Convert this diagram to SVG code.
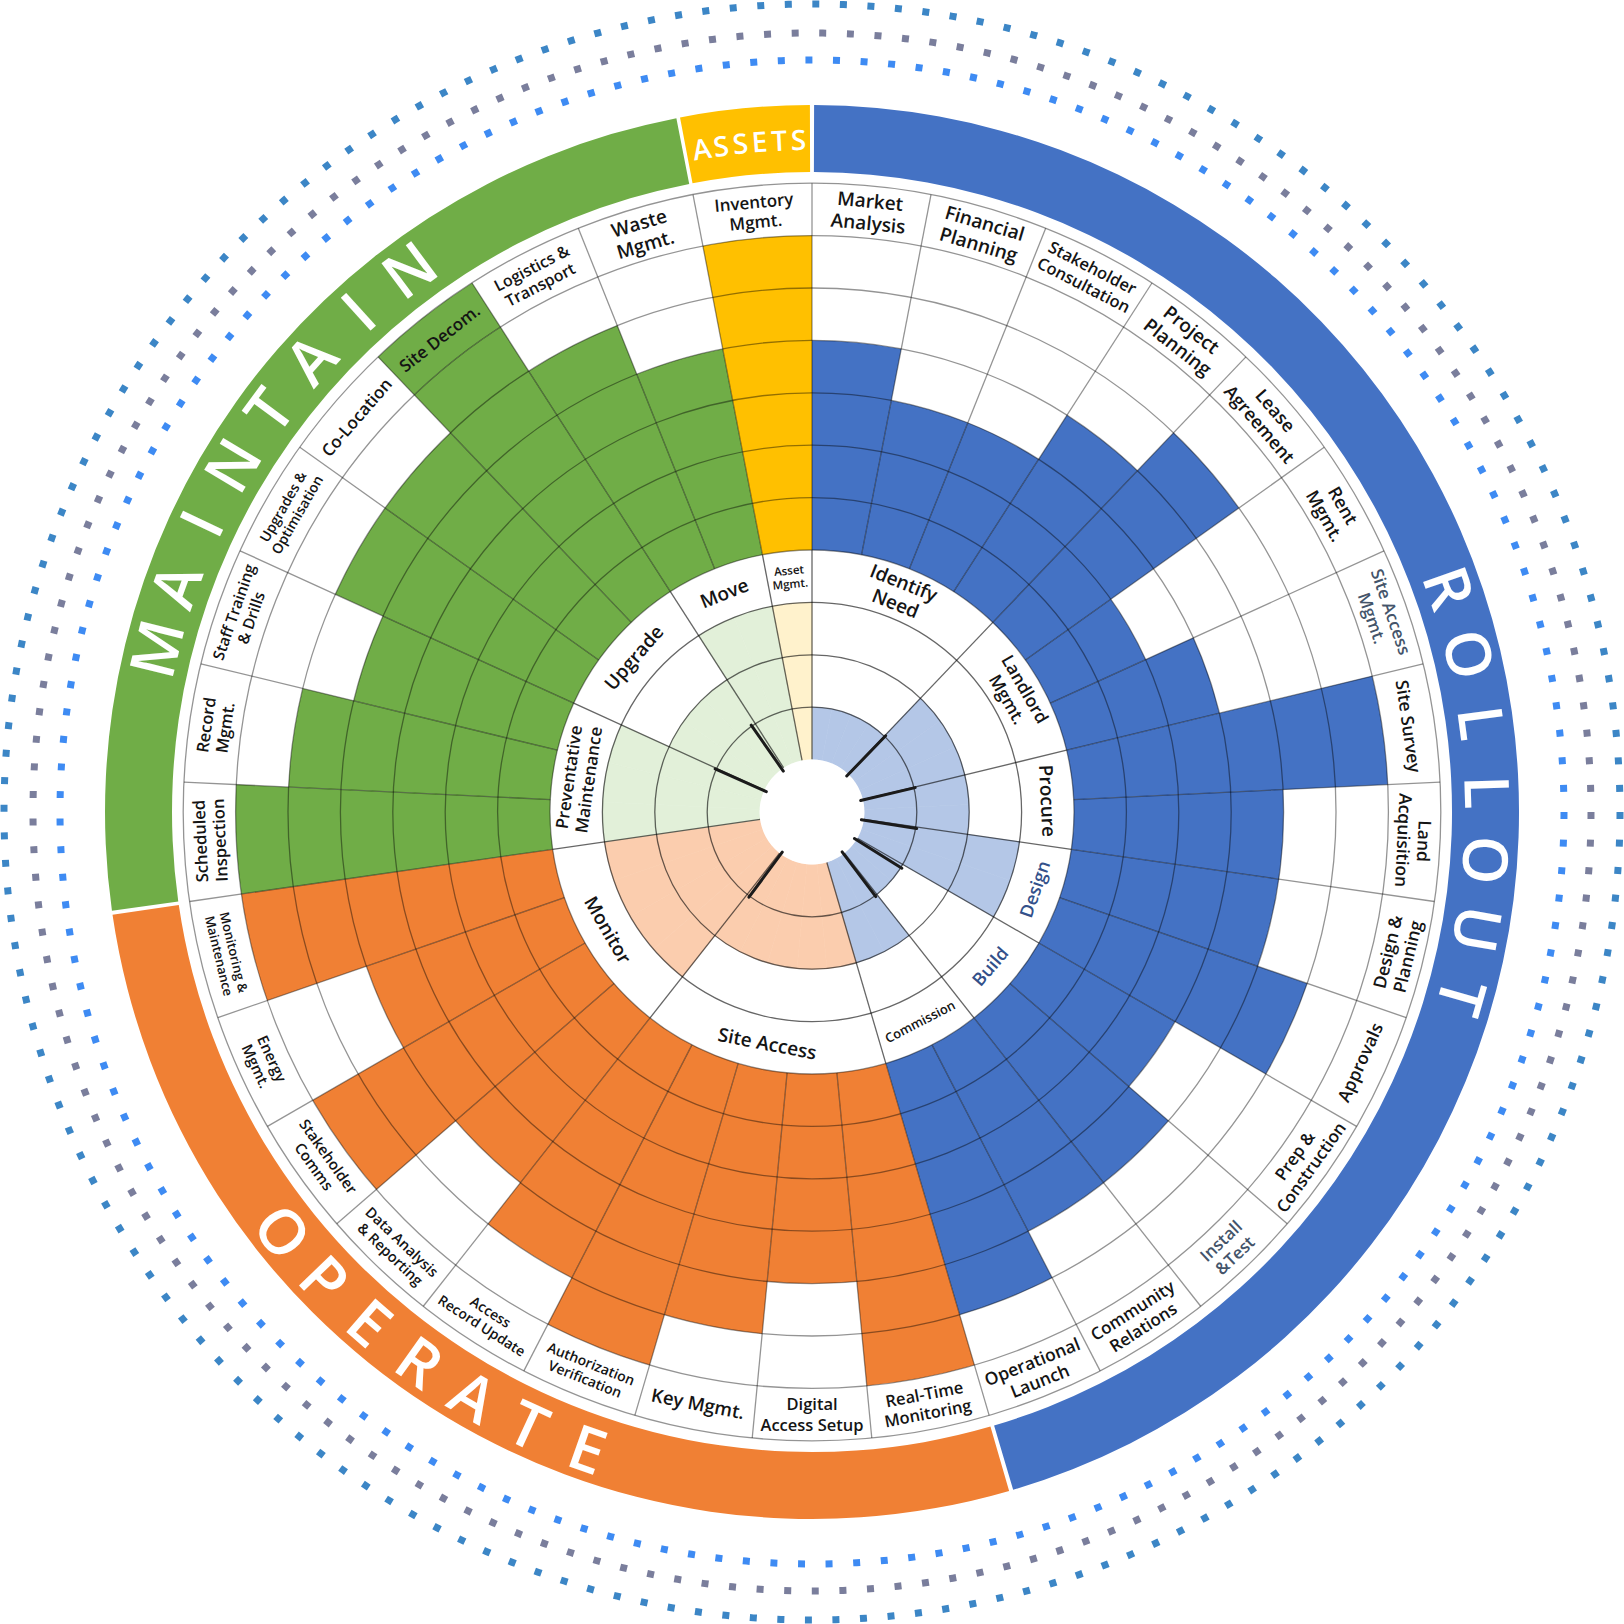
<svg xmlns="http://www.w3.org/2000/svg" width="1624" height="1624" viewBox="0 0 1624 1624">
<style>
text { font-family: "Open Sans", "Noto Sans", "Liberation Sans", sans-serif; }
.lbl { font-weight: 600; fill: #141414; text-anchor: middle; }
.nv { fill: #44546A; }
.bl { fill: #33508A; }
.bandt { fill: #ffffff; font-size: 62px; font-weight: 600; text-anchor: middle; }
.asst { fill: #ffffff; font-size: 28px; font-weight: 600; text-anchor: middle; }
.grid { fill: none; stroke: #000; stroke-opacity: 0.42; stroke-width: 1.3; }
.gridin { fill: none; stroke: #000; stroke-opacity: 0.6; stroke-width: 1.3; }
.b { fill: #4472C4; } .o { fill: #F08034; } .g { fill: #70AD47; } .y { fill: #FFC000; }
.lb { fill: #B4C7E7; stroke: #B4C7E7; stroke-width: 0.6; }
.pe { fill: #FBCDAE; stroke: #FBCDAE; stroke-width: 0.6; }
.lg { fill: #E2F0D9; stroke: #E2F0D9; stroke-width: 0.6; }
.ly { fill: #FFF2CC; stroke: #FFF2CC; stroke-width: 0.6; }
</style>
<defs>
<path id="w1" d="M0,-262 L0,-314.4 A314.4,314.4 0 0 1 59.501,-308.719 L49.584,-257.265 A262,262 0 0 0 0,-262 Z"/>
<path id="w2" d="M0,-262 L0,-366.8 A366.8,366.8 0 0 1 69.418,-360.172 L49.584,-257.265 A262,262 0 0 0 0,-262 Z"/>
<path id="w3" d="M0,-262 L0,-419.2 A419.2,419.2 0 0 1 79.334,-411.625 L49.584,-257.265 A262,262 0 0 0 0,-262 Z"/>
<path id="w4" d="M0,-262 L0,-471.6 A471.6,471.6 0 0 1 89.251,-463.078 L49.584,-257.265 A262,262 0 0 0 0,-262 Z"/>
<path id="w5" d="M0,-262 L0,-524 A524,524 0 0 1 99.168,-514.531 L49.584,-257.265 A262,262 0 0 0 0,-262 Z"/>
<path id="w6" d="M0,-262 L0,-576.4 A576.4,576.4 0 0 1 109.085,-565.984 L49.584,-257.265 A262,262 0 0 0 0,-262 Z"/>
<path id="lab" d="M0,-576.4 L0,-628.8 A628.8,628.8 0 0 1 119.002,-617.437 L109.085,-565.984 A576.4,576.4 0 0 0 0,-576.4 Z"/>
<path id="i1" d="M0,-52.4 L0,-104.8 A104.8,104.8 0 0 1 19.834,-102.906 L9.917,-51.453 A52.4,52.4 0 0 0 0,-52.4 Z"/>
<path id="i2" d="M0,-52.4 L0,-157.2 A157.2,157.2 0 0 1 29.750,-154.359 L9.917,-51.453 A52.4,52.4 0 0 0 0,-52.4 Z"/>
<path id="i3" d="M0,-52.4 L0,-209.6 A209.6,209.6 0 0 1 39.667,-205.812 L9.917,-51.453 A52.4,52.4 0 0 0 0,-52.4 Z"/>
<line id="ro" x1="0" y1="-262" x2="0" y2="-628.8"/>
<line id="ri" x1="0" y1="-52.4" x2="0" y2="-262"/>
<line id="hand" x1="0" y1="-50" x2="0" y2="-106"/>
</defs>

<g id="dots" fill="none" transform="translate(812 812)">
<circle r="808" stroke="#3C86C6" stroke-width="7" stroke-dasharray="7 20.591"/>
<circle r="779" stroke="#7A7E9C" stroke-width="7" stroke-dasharray="7 20.653"/>
<circle r="752" stroke="#3E8BF3" stroke-width="7" stroke-dasharray="7 20.631"/>
</g>

<g id="bands">
<path id="band-maintain" fill="#70AD47" d="M111.94,910.75 A707,707 0 0 1 676.37,118.13 L689.22,183.88 A640,640 0 0 0 178.28,901.40 Z"/>
<path id="band-assets" fill="#FFC000" d="M680.02,117.43 A707,707 0 0 1 809.90,105 L810.10,172 A640,640 0 0 0 692.52,183.25 Z"/>
<path id="band-rollout" fill="#4472C4" d="M814.10,105 A707,707 0 0 1 1013.16,1489.78 L994.10,1425.55 A640,640 0 0 0 813.90,172 Z"/>
<path id="band-operate" fill="#F08034" d="M1009.13,1490.96 A707,707 0 0 1 112.52,914.80 L178.80,905.06 A640,640 0 0 0 990.44,1426.62 Z"/>
</g>

<g id="band-labels" transform="translate(812 812)">
<g transform="rotate(284.0) translate(0,-675)"><text class="bandt" y="22">M</text></g>
<g transform="rotate(289.6) translate(0,-675)"><text class="bandt" y="22">A</text></g>
<g transform="rotate(295.3) translate(0,-675)"><text class="bandt" y="22">I</text></g>
<g transform="rotate(300.9) translate(0,-675)"><text class="bandt" y="22">N</text></g>
<g transform="rotate(306.5) translate(0,-675)"><text class="bandt" y="22">T</text></g>
<g transform="rotate(312.1) translate(0,-675)"><text class="bandt" y="22">A</text></g>
<g transform="rotate(317.8) translate(0,-675)"><text class="bandt" y="22">I</text></g>
<g transform="rotate(323.4) translate(0,-675)"><text class="bandt" y="22">N</text></g>

<g transform="rotate(70.6) translate(0,-675)"><text class="bandt" y="22">R</text></g>
<g transform="rotate(76.5) translate(0,-675)"><text class="bandt" y="22">O</text></g>
<g transform="rotate(82.4) translate(0,-675)"><text class="bandt" y="22">L</text></g>
<g transform="rotate(88.3) translate(0,-675)"><text class="bandt" y="22">L</text></g>
<g transform="rotate(94.1) translate(0,-675)"><text class="bandt" y="22">O</text></g>
<g transform="rotate(100.0) translate(0,-675)"><text class="bandt" y="22">U</text></g>
<g transform="rotate(105.9) translate(0,-675)"><text class="bandt" y="22">T</text></g>

<g transform="rotate(231.6) translate(0,-676) rotate(180)"><text class="bandt" y="22">O</text></g>
<g transform="rotate(226.2) translate(0,-676) rotate(180)"><text class="bandt" y="22">P</text></g>
<g transform="rotate(220.9) translate(0,-676) rotate(180)"><text class="bandt" y="22">E</text></g>
<g transform="rotate(215.5) translate(0,-676) rotate(180)"><text class="bandt" y="22">R</text></g>
<g transform="rotate(210.1) translate(0,-676) rotate(180)"><text class="bandt" y="22">A</text></g>
<g transform="rotate(204.8) translate(0,-676) rotate(180)"><text class="bandt" y="22">T</text></g>
<g transform="rotate(199.4) translate(0,-676) rotate(180)"><text class="bandt" y="22">E</text></g>

<g transform="rotate(-9.44) translate(0,-672)"><text class="asst" y="10">A</text></g>
<g transform="rotate(-7.78) translate(0,-672)"><text class="asst" y="10">S</text></g>
<g transform="rotate(-6.12) translate(0,-672)"><text class="asst" y="10">S</text></g>
<g transform="rotate(-4.47) translate(0,-672)"><text class="asst" y="10">E</text></g>
<g transform="rotate(-2.81) translate(0,-672)"><text class="asst" y="10">T</text></g>
<g transform="rotate(-1.15) translate(0,-672)"><text class="asst" y="10">S</text></g>
</g>

<g id="data-cells" transform="translate(812 812)">
<use href="#w4" class="b" transform="rotate(0)"/>
<use href="#w3" class="b" transform="rotate(10.909)"/>
<use href="#w3" class="b" transform="rotate(21.818)"/>
<use href="#w4" class="b" transform="rotate(32.727)"/>
<use href="#w5" class="b" transform="rotate(43.636)"/>
<use href="#w2" class="b" transform="rotate(54.545)"/>
<use href="#w3" class="b" transform="rotate(65.455)"/>
<use href="#w6" class="b" transform="rotate(76.364)"/>
<use href="#w4" class="b" transform="rotate(87.273)"/>
<use href="#w4" class="b" transform="rotate(98.182)"/>
<use href="#w5" class="b" transform="rotate(109.091)"/>
<use href="#w3" class="b" transform="rotate(120)"/>
<use href="#w4" class="b" transform="rotate(130.909)"/>
<use href="#w4" class="b" transform="rotate(141.818)"/>
<use href="#w5" class="b" transform="rotate(152.727)"/>
<use href="#w6" class="o" transform="rotate(163.636)"/>
<use href="#w4" class="o" transform="rotate(174.545)"/>
<use href="#w5" class="o" transform="rotate(185.455)"/>
<use href="#w6" class="o" transform="rotate(196.364)"/>
<use href="#w5" class="o" transform="rotate(207.273)"/>
<use href="#w4" class="o" transform="rotate(218.182)"/>
<use href="#w6" class="o" transform="rotate(229.091)"/>
<use href="#w4" class="o" transform="rotate(240)"/>
<use href="#w6" class="o" transform="rotate(250.909)"/>
<use href="#w6" class="g" transform="rotate(261.818)"/>
<use href="#w5" class="g" transform="rotate(272.727)"/>
<use href="#w4" class="g" transform="rotate(283.636)"/>
<use href="#w5" class="g" transform="rotate(294.545)"/>
<use href="#w5" class="g" transform="rotate(305.455)"/>
<use href="#w6" class="g" transform="rotate(316.364)"/>
<use href="#lab" class="g" transform="rotate(316.364)"/>
<use href="#w5" class="g" transform="rotate(327.273)"/>
<use href="#w4" class="g" transform="rotate(338.182)"/>
<use href="#w6" class="y" transform="rotate(349.091)"/>
</g>

<g id="inner-pie" transform="translate(812 812)">
<use href="#i1" class="lb" transform="rotate(0)"/>
<use href="#i1" class="lb" transform="rotate(10.909)"/>
<use href="#i1" class="lb" transform="rotate(21.818)"/>
<use href="#i1" class="lb" transform="rotate(32.727)"/>
<use href="#i2" class="lb" transform="rotate(43.636)"/>
<use href="#i2" class="lb" transform="rotate(54.545)"/>
<use href="#i2" class="lb" transform="rotate(65.455)"/>
<use href="#i2" class="lb" transform="rotate(76.364)"/>
<use href="#i2" class="lb" transform="rotate(87.273)"/>
<use href="#i3" class="lb" transform="rotate(98.182)"/>
<use href="#i3" class="lb" transform="rotate(109.091)"/>
<use href="#i1" class="lb" transform="rotate(120)"/>
<use href="#i1" class="lb" transform="rotate(130.909)"/>
<use href="#i2" class="lb" transform="rotate(141.818)"/>
<use href="#i2" class="lb" transform="rotate(152.727)"/>
<use href="#i2" class="pe" transform="rotate(163.636)"/>
<use href="#i2" class="pe" transform="rotate(174.545)"/>
<use href="#i2" class="pe" transform="rotate(185.455)"/>
<use href="#i2" class="pe" transform="rotate(196.364)"/>
<use href="#i2" class="pe" transform="rotate(207.273)"/>
<use href="#i3" class="pe" transform="rotate(218.182)"/>
<use href="#i3" class="pe" transform="rotate(229.091)"/>
<use href="#i3" class="pe" transform="rotate(240)"/>
<use href="#i3" class="pe" transform="rotate(250.909)"/>
<use href="#i3" class="lg" transform="rotate(261.818)"/>
<use href="#i3" class="lg" transform="rotate(272.727)"/>
<use href="#i3" class="lg" transform="rotate(283.636)"/>
<use href="#i2" class="lg" transform="rotate(294.545)"/>
<use href="#i2" class="lg" transform="rotate(305.455)"/>
<use href="#i2" class="lg" transform="rotate(316.364)"/>
<use href="#i3" class="lg" transform="rotate(327.273)"/>
<use href="#i3" class="lg" transform="rotate(338.182)"/>
<use href="#i3" class="ly" transform="rotate(349.091)"/>
</g>

<g id="connectors" transform="translate(812 812)">
<g class="gridin">
<circle r="104.8"/><circle r="157.2"/><circle r="209.6"/>
<use href="#ri" transform="rotate(0)"/><use href="#ri" transform="rotate(43.636)"/><use href="#ri" transform="rotate(76.364)"/>
<use href="#ri" transform="rotate(98.182)"/><use href="#ri" transform="rotate(120)"/><use href="#ri" transform="rotate(141.818)"/>
<use href="#ri" transform="rotate(163.636)"/><use href="#ri" transform="rotate(218.182)"/><use href="#ri" transform="rotate(261.818)"/>
<use href="#ri" transform="rotate(294.545)"/><use href="#ri" transform="rotate(327.273)"/><use href="#ri" transform="rotate(349.091)"/>
</g>
<g class="grid">
<circle r="262"/>
<circle r="314.4"/><circle r="366.8"/><circle r="419.2"/><circle r="471.6"/><circle r="524"/><circle r="576.4"/><circle r="628.8"/>
<use href="#ro" transform="rotate(0)"/><use href="#ro" transform="rotate(10.909)"/><use href="#ro" transform="rotate(21.818)"/>
<use href="#ro" transform="rotate(32.727)"/><use href="#ro" transform="rotate(43.636)"/><use href="#ro" transform="rotate(54.545)"/>
<use href="#ro" transform="rotate(65.455)"/><use href="#ro" transform="rotate(76.364)"/><use href="#ro" transform="rotate(87.273)"/>
<use href="#ro" transform="rotate(98.182)"/><use href="#ro" transform="rotate(109.091)"/><use href="#ro" transform="rotate(120)"/>
<use href="#ro" transform="rotate(130.909)"/><use href="#ro" transform="rotate(141.818)"/><use href="#ro" transform="rotate(152.727)"/>
<use href="#ro" transform="rotate(163.636)"/><use href="#ro" transform="rotate(174.545)"/><use href="#ro" transform="rotate(185.455)"/>
<use href="#ro" transform="rotate(196.364)"/><use href="#ro" transform="rotate(207.273)"/><use href="#ro" transform="rotate(218.182)"/>
<use href="#ro" transform="rotate(229.091)"/><use href="#ro" transform="rotate(240)"/><use href="#ro" transform="rotate(250.909)"/>
<use href="#ro" transform="rotate(261.818)"/><use href="#ro" transform="rotate(272.727)"/><use href="#ro" transform="rotate(283.636)"/>
<use href="#ro" transform="rotate(294.545)"/><use href="#ro" transform="rotate(305.455)"/><use href="#ro" transform="rotate(316.364)"/>
<use href="#ro" transform="rotate(327.273)"/><use href="#ro" transform="rotate(338.182)"/><use href="#ro" transform="rotate(349.091)"/>
</g>
</g>

<g id="hub" transform="translate(812 812)">
<circle r="52.4" fill="#ffffff"/>
<g stroke="#1b1b1b" stroke-width="3" stroke-linecap="round">
<use href="#hand" transform="rotate(44)"/><use href="#hand" transform="rotate(76.7)"/>
<use href="#hand" transform="rotate(99)"/><use href="#hand" transform="rotate(122)"/>
<use href="#hand" transform="rotate(143)"/><use href="#hand" transform="rotate(216.5)"/>
<use href="#hand" transform="rotate(294)"/><use href="#hand" transform="rotate(325)"/>
</g>
</g>

<g id="inner-labels" transform="translate(812 812)">
<g id="n-identify" transform="rotate(21.82) translate(0,-235.8)"><text class="lbl" font-size="19"><tspan x="0" y="-4.3">Identify</tspan><tspan x="0" y="17.9">Need</tspan></text></g>
<g id="n-landlord" transform="rotate(60) translate(0,-235.8)"><text class="lbl" font-size="17.5"><tspan x="0" y="-3.9">Landlord</tspan><tspan x="0" y="16.6">Mgmt.</tspan></text></g>
<g id="n-procure" transform="rotate(87.27) translate(0,-235.8)"><text class="lbl" font-size="19" y="6.8">Procure</text></g>
<g id="n-design" transform="rotate(109.09) translate(0,-235.8) rotate(180)"><text class="lbl bl" font-size="18" y="6.5">Design</text></g>
<g id="n-build" transform="rotate(130.91) translate(0,-235.8) rotate(180)"><text class="lbl bl" font-size="18" y="6.5">Build</text></g>
<g id="n-commission" transform="rotate(152.73) translate(0,-235.8) rotate(180)"><text class="lbl" font-size="13" font-weight="400" y="4.7">Commission</text></g>
<g id="n-siteaccess" transform="rotate(190.91) translate(0,-235.8) rotate(180)"><text class="lbl" font-size="19" y="6.8">Site Access</text></g>
<g id="n-monitor" transform="rotate(240) translate(0,-235.8) rotate(180)"><text class="lbl" font-size="19" y="6.8">Monitor</text></g>
<g id="n-prevmaint" transform="rotate(278.18) translate(0,-235.8)"><text class="lbl" font-size="17"><tspan x="0" y="-3.8">Preventative</tspan><tspan x="0" y="16.1">Maintenance</tspan></text></g>
<g id="n-upgrade" transform="rotate(310.91) translate(0,-235.8)"><text class="lbl" font-size="19" y="6.8">Upgrade</text></g>
<g id="n-move" transform="rotate(338.18) translate(0,-235.8)"><text class="lbl" font-size="19" y="6.8">Move</text></g>
<g id="n-assetmgmt" transform="rotate(354.55) translate(0,-235.8)"><text class="lbl" font-size="11.5" font-weight="400"><tspan x="0" y="-2.6">Asset</tspan><tspan x="0" y="10.9">Mgmt.</tspan></text></g>
</g>

<g id="outer-labels" transform="translate(812 812)">
<g id="s-market" transform="rotate(5.45) translate(0,-602.6)"><text class="lbl" font-size="19"><tspan x="0" y="-4.3">Market</tspan><tspan x="0" y="17.9">Analysis</tspan></text></g>
<g id="s-financial" transform="rotate(16.36) translate(0,-602.6)"><text class="lbl" font-size="19"><tspan x="0" y="-4.3">Financial</tspan><tspan x="0" y="17.9">Planning</tspan></text></g>
<g id="s-stakecons" transform="rotate(27.27) translate(0,-602.6)"><text class="lbl" font-size="16.5"><tspan x="0" y="-3.7">Stakeholder</tspan><tspan x="0" y="15.6">Consultation</tspan></text></g>
<g id="s-project" transform="rotate(38.18) translate(0,-602.6)"><text class="lbl" font-size="19"><tspan x="0" y="-4.3">Project</tspan><tspan x="0" y="17.9">Planning</tspan></text></g>
<g id="s-lease" transform="rotate(49.09) translate(0,-602.6)"><text class="lbl" font-size="18"><tspan x="0" y="-4.0">Lease</tspan><tspan x="0" y="17.0">Agreement</tspan></text></g>
<g id="s-rent" transform="rotate(60) translate(0,-602.6)"><text class="lbl" font-size="18"><tspan x="0" y="-4.0">Rent</tspan><tspan x="0" y="17.0">Mgmt.</tspan></text></g>
<g id="s-siteaccess" transform="rotate(70.91) translate(0,-602.6)"><text class="lbl nv" font-size="17"><tspan x="0" y="-3.8">Site Access</tspan><tspan x="0" y="16.1">Mgmt.</tspan></text></g>
<g id="s-survey" transform="rotate(81.82) translate(0,-602.6)"><text class="lbl" font-size="17.5" y="6.3">Site Survey</text></g>
<g id="s-land" transform="rotate(92.73) translate(0,-602.6)"><text class="lbl" font-size="17.5"><tspan x="0" y="-3.9">Land</tspan><tspan x="0" y="16.6">Acquisition</tspan></text></g>
<g id="s-designplan" transform="rotate(103.64) translate(0,-602.6) rotate(180)"><text class="lbl" font-size="17.5"><tspan x="0" y="-3.9">Design &amp;</tspan><tspan x="0" y="16.6">Planning</tspan></text></g>
<g id="s-approvals" transform="rotate(114.55) translate(0,-602.6) rotate(180)"><text class="lbl" font-size="17.5" y="6.3">Approvals</text></g>
<g id="s-prep" transform="rotate(125.45) translate(0,-602.6) rotate(180)"><text class="lbl" font-size="17"><tspan x="0" y="-3.8">Prep &amp;</tspan><tspan x="0" y="16.1">Construction</tspan></text></g>
<g id="s-install" transform="rotate(136.36) translate(0,-602.6) rotate(180)"><text class="lbl nv" font-size="17"><tspan x="0" y="-3.8">Install</tspan><tspan x="0" y="16.1">&amp;Test</tspan></text></g>
<g id="s-community" transform="rotate(147.27) translate(0,-602.6) rotate(180)"><text class="lbl" font-size="17"><tspan x="0" y="-3.8">Community</tspan><tspan x="0" y="16.1">Relations</tspan></text></g>
<g id="s-oplaunch" transform="rotate(158.18) translate(0,-602.6) rotate(180)"><text class="lbl" font-size="17.5"><tspan x="0" y="-3.9">Operational</tspan><tspan x="0" y="16.6">Launch</tspan></text></g>
<g id="s-realtime" transform="rotate(169.09) translate(0,-602.6) rotate(180)"><text class="lbl" font-size="16.5"><tspan x="0" y="-3.7">Real-Time</tspan><tspan x="0" y="15.6">Monitoring</tspan></text></g>
<g id="s-digital" transform="rotate(180) translate(0,-602.6) rotate(180)"><text class="lbl" font-size="16.5"><tspan x="0" y="-4.6">Digital</tspan><tspan x="0" y="16.6">Access Setup</tspan></text></g>
<g id="s-key" transform="rotate(190.91) translate(0,-602.6) rotate(180)"><text class="lbl" font-size="18.5" y="6.7">Key Mgmt.</text></g>
<g id="s-auth" transform="rotate(201.82) translate(0,-602.6) rotate(180)"><text class="lbl" font-size="14"><tspan x="0" y="-3.2">Authorization</tspan><tspan x="0" y="13.2">Verification</tspan></text></g>
<g id="s-accessrec" transform="rotate(212.73) translate(0,-602.6) rotate(180)"><text class="lbl" font-size="14"><tspan x="0" y="-3.2">Access</tspan><tspan x="0" y="13.2">Record Update</tspan></text></g>
<g id="s-dataanalysis" transform="rotate(223.64) translate(0,-602.6) rotate(180)"><text class="lbl" font-size="14.5"><tspan x="0" y="-3.3">Data Analysis</tspan><tspan x="0" y="13.7">&amp; Reporting</tspan></text></g>
<g id="s-stakecomms" transform="rotate(234.55) translate(0,-602.6) rotate(180)"><text class="lbl" font-size="15"><tspan x="0" y="-3.4">Stakeholder</tspan><tspan x="0" y="14.2">Comms</tspan></text></g>
<g id="s-energy" transform="rotate(245.45) translate(0,-602.6) rotate(180)"><text class="lbl" font-size="15"><tspan x="0" y="-3.4">Energy</tspan><tspan x="0" y="14.2">Mgmt.</tspan></text></g>
<g id="s-monmaint" transform="rotate(256.36) translate(0,-602.6) rotate(180)"><text class="lbl" font-size="13"><tspan x="0" y="-2.9">Monitoring &amp;</tspan><tspan x="0" y="12.3">Maintenance</tspan></text></g>
<g id="s-scheduled" transform="rotate(267.27) translate(0,-602.6)"><text class="lbl" font-size="16.5"><tspan x="0" y="-3.7">Scheduled</tspan><tspan x="0" y="15.6">Inspection</tspan></text></g>
<g id="s-record" transform="rotate(278.18) translate(0,-602.6)"><text class="lbl" font-size="16.5"><tspan x="0" y="-3.7">Record</tspan><tspan x="0" y="15.6">Mgmt.</tspan></text></g>
<g id="s-staff" transform="rotate(289.09) translate(0,-602.6)"><text class="lbl" font-size="15.5"><tspan x="0" y="-3.5">Staff Training</tspan><tspan x="0" y="14.6">&amp; Drills</tspan></text></g>
<g id="s-upgrades" transform="rotate(300) translate(0,-602.6)"><text class="lbl" font-size="14"><tspan x="0" y="-3.2">Upgrades &amp;</tspan><tspan x="0" y="13.2">Optimisation</tspan></text></g>
<g id="s-coloc" transform="rotate(310.91) translate(0,-602.6)"><text class="lbl" font-size="17" y="6.1">Co-Location</text></g>
<g id="s-decom" transform="rotate(321.82) translate(0,-602.6)"><text class="lbl" font-size="17" y="6.1">Site Decom.</text></g>
<g id="s-logistics" transform="rotate(332.73) translate(0,-602.6)"><text class="lbl" font-size="16"><tspan x="0" y="-3.6">Logistics &amp;</tspan><tspan x="0" y="15.1">Transport</tspan></text></g>
<g id="s-waste" transform="rotate(343.64) translate(0,-602.6)"><text class="lbl" font-size="19"><tspan x="0" y="-4.3">Waste</tspan><tspan x="0" y="17.9">Mgmt.</tspan></text></g>
<g id="s-inventory" transform="rotate(354.55) translate(0,-602.6)"><text class="lbl" font-size="17"><tspan x="0" y="-3.8">Inventory</tspan><tspan x="0" y="16.1">Mgmt.</tspan></text></g>
</g>
</svg>
